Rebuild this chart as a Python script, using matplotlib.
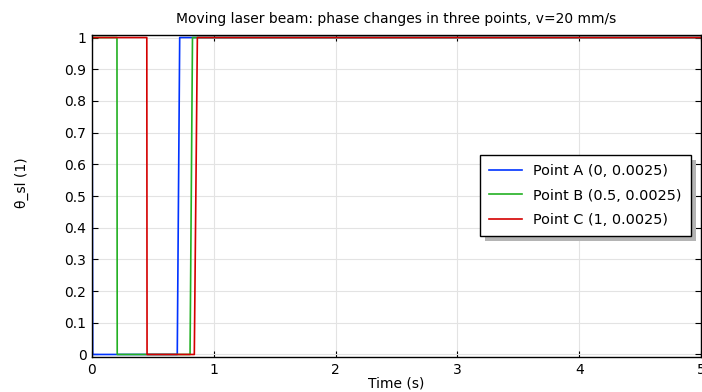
import matplotlib
matplotlib.use("Agg")
from matplotlib import pyplot as plt
from matplotlib.patches import Rectangle
import numpy as np

# phase indicator at three points along the laser path
t_a = [0.0, 0.006, 0.70, 0.72, 5.0]
theta_a = [1, 0, 0, 1, 1]

t_b = [0.0, 0.205, 0.207, 0.805, 0.825, 5.0]
theta_b = [1, 1, 0, 0, 1, 1]

t_c = [0.0, 0.450, 0.452, 0.840, 0.865, 5.0]
theta_c = [1, 1, 0, 0, 1, 1]

labels = ["Point A (0, 0.0025)", "Point B (0.5, 0.0025)", "Point C (1, 0.0025)"]
colors = ["#0033ff", "#22b022", "#d40000"]

plt.rcParams["font.family"] = "DejaVu Sans"
plt.rcParams["font.size"] = 10

fig = plt.figure(figsize=(7.02, 3.92), dpi=100)
ax = fig.add_axes([92 / 702, 35 / 392, 609 / 702, 322 / 392])

lines = []
for t, th, lab, c in zip([t_a, t_b, t_c], [theta_a, theta_b, theta_c], labels, colors):
    ln, = ax.plot(t, th, color=c, lw=1.2, label=lab)
    lines.append(ln)

ax.set_xlim(0, 5)
ax.set_ylim(-0.008, 1.008)
ax.set_xticks(np.arange(0, 6, 1))
ax.set_yticks(np.round(np.arange(0, 1.01, 0.1), 1))
ax.set_yticklabels(["0", "0.1", "0.2", "0.3", "0.4", "0.5", "0.6", "0.7", "0.8", "0.9", "1"])
ax.grid(color="#e3e3e3", lw=0.8)
ax.set_axisbelow(True)
ax.tick_params(direction="in", top=True, right=True, length=4, width=0.8, pad=4)
for s in ax.spines.values():
    s.set_linewidth(1.0)

ax.set_title("Moving laser beam: phase changes in three points, v=20 mm/s", fontsize=10, pad=9)
ax.set_xlabel("Time (s)", labelpad=0)
ax.set_ylabel("θ_sl (1)")
ax.yaxis.set_label_coords(-0.104, 0.54)

leg = fig.legend(handles=lines, loc="upper left", bbox_to_anchor=(480 / 702, 1 - 155 / 392),
                 fancybox=False, framealpha=1, edgecolor="black", borderaxespad=0,
                 handlelength=2.3, borderpad=0.6, labelspacing=0.75, handletextpad=0.8,
                 fontsize=10.4)
leg.get_frame().set_linewidth(1.0)
leg.set_zorder(5)

# drop shadow behind the legend box
fig.canvas.draw()
bb = leg.get_window_extent().transformed(fig.transFigure.inverted())
shadow = Rectangle((bb.x0 + 5 / 702, bb.y0 - 5 / 392), bb.width, bb.height,
                   transform=fig.transFigure, facecolor="#b4b4b4", edgecolor="none",
                   zorder=4)
fig.add_artist(shadow)

fig.savefig("out.png", dpi=100)
